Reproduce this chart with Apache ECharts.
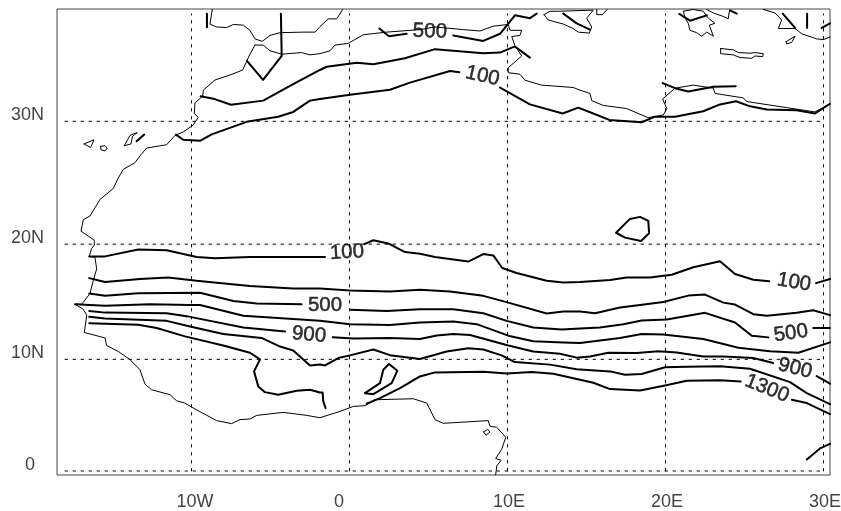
<!DOCTYPE html>
<html>
<head>
<meta charset="utf-8">
<script src="https://cdn.jsdelivr.net/npm/echarts@6/dist/echarts.min.js"></script>
<style>html,body{margin:0;padding:0;background:#fff}#c{width:841px;height:511px}</style>
</head>
<body>
<div id="c"></div>
<script>
// tick values and labels
const lonTicks = [-10, 0, 10, 20, 30];
const lonLabels = ["10W", "0", "10E", "20E", "30E"];
const latTicks = [0, 10, 20, 30];
const latLabels = ["0", "10N", "20N", "30N"];

// contour segments, [lon, lat]
const contourIberiaW = [[-9.02,38.02],[-9.02,37.05]];
const contourIberiaE = [[-4.34,38.02],[-4.29,34.96],[-5.47,33.17],[-6.49,34.59]];
const contourN500a = [[-9.42,31.93],[-8.62,31.75],[-7.5,31.28],[-5.46,31.6],[-3.56,32.85],[-1.87,33.92],[-1.44,34.16],[0.46,34.46],[1.51,34.34],[3.51,34.79],[5.41,35.46],[8.47,35.16],[9.53,35.21],[10.47,35.66],[11.42,34.84]];
const contourN100a = [[-10.98,28.96],[-10.52,28.55],[-9.46,28.47],[-8.72,28.98],[-6.51,29.96],[-4.51,30.36],[-3.56,30.73],[-2.5,31.6],[-1.87,31.72],[0.03,32.05],[2.56,32.43],[3.83,32.97],[6.36,33.84],[6.95,33.75]];
const contourN100b = [[9.53,32.6],[11.42,31.31],[13.49,30.61],[14.48,31.06],[15.43,30.61],[16.44,30.11],[18.49,29.93],[19.34,30.36],[20.6,30.36],[22.39,30.78],[23.45,31.31],[24.46,31.55],[25.35,31.16],[26.41,30.91],[28.3,30.86],[29.46,30.61],[30.41,31.36]];
const contourMed500a = [[1.89,36.96],[2.5,36.4],[3.62,36.58]];
const contourMed500b = [[6.57,36.46],[8.47,36.06],[9.53,36.58],[10.47,37.9],[11.42,37.7],[11.85,38.02]];
const contourSicily = [[13.53,38.02],[14.38,37.33],[15.22,36.88]];
const contourGreece = [[20.87,38.0],[21.55,37.52],[22.61,37.9]];
const contourAegean = [[24.08,38.25],[24.51,38.02]];
const contourTurkeyA = [[27.42,38.02],[28.2,37.0]];
const contourTurkeyB = [[28.96,38.02],[28.96,37.0]];
const contourTurkeyC = [[29.89,37.0],[30.41,37.33]];
const contourLibya = [[19.82,32.93],[20.6,32.55],[21.44,32.3],[23.03,32.65],[24.44,32.7]];
const contourChad = [[16.87,20.96],[17.44,20.55],[18.45,20.27],[18.96,20.92],[18.91,21.96],[18.39,22.29],[17.75,22.12],[16.87,20.96]];
const contourCanary = [[-13.47,28.43],[-12.99,28.96]];
const contour100W = [[-16.47,18.96],[-15.47,18.96],[-13.37,19.54],[-11.57,19.48],[-9.67,18.9],[-8.51,18.81],[-6.3,18.9],[-1.55,18.9]];
const contour100E = [[0.94,20.0],[1.51,20.33],[2.46,20.06],[3.51,19.33],[4.46,19.19],[5.41,18.9],[7.52,18.52],[8.47,19.16],[9.1,19.04],[9.67,17.97],[10.58,17.54],[12.48,16.87],[13.53,16.72],[14.59,16.76],[16.49,16.93],[17.54,17.16],[19.02,17.16],[20.39,17.39],[21.76,18.03],[23.45,18.55],[24.4,17.45],[25.56,16.96],[26.57,16.84]];
const contour100End = [[29.53,16.67],[30.41,17.02]];
const contour300 = [[-16.47,17.1],[-15.47,16.76],[-13.26,17.02],[-11.47,17.16],[-9.67,16.87],[-6.3,16.43],[-3.56,16.2],[-1.87,16.2],[0.03,16.03],[2.56,15.94],[4.46,16.09],[6.36,15.94],[8.47,15.57],[10.05,14.98],[12.48,14.03],[13.53,14.2],[14.59,14.2],[15.54,14.06],[17.12,14.55],[18.39,14.78],[19.86,15.04],[21.44,15.59],[22.5,15.68],[23.66,14.98],[24.4,14.81],[25.56,13.97],[26.41,13.83],[28.3,14.09],[29.35,14.32],[30.41,13.89]];
const contour500W = [[-16.47,15.77],[-15.47,15.57],[-13.37,15.8],[-9.46,15.83],[-7.35,15.13],[-5.87,14.9],[-3.03,14.84]];
const contour500E = [[0.03,14.35],[2.35,14.26],[4.46,14.41],[6.57,14.41],[8.47,14.06],[9.95,13.39],[11.63,12.81],[13.43,12.63],[14.59,12.72],[15.85,12.81],[17.33,13.1],[18.49,13.42],[20.08,13.5],[22.5,14.09],[24.4,13.24],[25.46,12.09],[26.51,11.94]];
const contour500End = [[29.35,12.76],[30.41,12.76]];
const contour700 = [[-17.37,14.84],[-15.47,14.72],[-12.63,14.84],[-10.09,14.78],[-9.46,14.78],[-6.72,13.83],[-1.87,13.39],[0.03,13.1],[2.56,13.02],[4.46,13.24],[6.57,13.33],[8.05,13.1],[10.05,12.09],[11.63,11.59],[13.53,11.48],[14.59,11.45],[17.12,11.89],[18.49,12.23],[19.86,12.2],[22.39,11.8],[24.61,11.02],[26.61,10.72],[28.41,10.58],[30.41,11.5]];
const contour900W = [[-16.47,14.26],[-15.47,14.11],[-11.57,14.06],[-10.09,13.74],[-6.72,12.81],[-4.08,12.46]];
const contour900E = [[-1.06,11.94],[0.24,11.85],[2.56,11.89],[4.46,11.8],[5.52,12.11],[6.57,12.23],[7.63,12.15],[10.05,11.22],[11.63,10.7],[13.32,10.5],[14.38,10.15],[15.22,10.26],[16.38,10.58],[18.18,10.55],[19.54,10.72],[20.71,10.61],[22.39,10.26],[23.66,10.26],[25.56,10.11],[26.82,9.67]];
const contour900End = [[29.57,8.51],[30.41,7.83]];
const contour1100 = [[-16.47,13.74],[-15.47,13.59],[-11.57,13.39],[-10.09,12.9],[-7.99,12.23],[-5.56,11.89],[-4.4,11.13],[-3.56,10.78],[-2.5,9.46],[-1.87,9.55],[-1.55,9.46],[-0.71,10.11],[0.03,10.35],[1.51,10.87],[2.56,10.37],[4.46,10.03],[6.15,10.7],[7.52,10.98],[8.47,10.87],[9.63,10.35],[10.47,9.76],[12.69,9.53],[14.38,9.11],[16.49,8.93],[17.44,8.63],[18.49,8.69],[19.97,9.29],[21.34,9.35],[23.45,9.38],[25.35,9.17],[27.88,7.97],[28.94,6.99],[30.41,6.01]];
const contour1300W = [[-16.47,13.19],[-13.37,13.04],[-12.2,12.76],[-10.41,12.03],[-7.99,11.22],[-6.3,10.58],[-5.66,10.0],[-6.04,8.93],[-5.77,7.59],[-5.35,7.08],[-4.51,6.85],[-3.34,7.21],[-2.5,7.29],[-1.87,7.05],[-1.7,7.05],[-1.66,6.25],[-1.51,5.65]];
const contour1300Loop = [[0.98,6.99],[1.93,7.88],[2.14,9.08],[2.5,9.58],[3.03,8.99],[2.67,7.88],[1.51,6.9],[0.98,6.99]];
const contour1300E = [[1.09,6.04],[1.93,6.54],[3.2,7.44],[4.46,8.48],[5.41,8.84],[8.47,8.9],[9.95,8.75],[11.53,8.87],[12.9,8.72],[14.59,8.19],[15.43,7.92],[16.49,7.35],[18.39,7.23],[19.97,7.68],[21.34,8.1],[23.45,8.15],[24.76,8.04]];
const contour1300End = [[27.99,6.4],[28.94,6.1],[30.41,5.12]];
const contourSE = [[28.94,1.04],[29.78,2.03],[30.41,2.44]];

// coastlines, [lon, lat]
const coastSpain = [[-8.68,38.32],[-8.83,37.28],[-8.41,37.07],[-7.77,37.03],[-7.35,37.25],[-6.72,37.2],[-6.3,36.83],[-5.98,36.21],[-5.52,36.03],[-5.03,36.46],[-4.4,36.66],[-2.92,36.7],[-2.18,36.7],[-1.87,37.09],[-1.34,37.65],[-0.81,37.65],[-0.43,38.32]];
const coastAfricaN = [[-5.98,35.76],[-5.46,35.76],[-5.03,35.34],[-4.29,35.09],[-3.03,35.21],[-2.5,35.04],[-1.87,35.13],[-1.23,35.34],[-0.92,35.76],[-0.08,35.88],[0.87,36.51],[2.35,36.7],[4.46,36.88],[5.41,37.07],[7.2,36.88],[8.26,36.78],[9.1,37.13],[10.05,37.25],[10.16,36.83],[10.9,36.83],[10.79,36.46],[10.27,36.38],[10.47,35.71],[10.9,34.96],[10.05,34.09],[10.05,33.72],[10.79,33.6],[11.11,33.15],[12.16,32.78],[14.16,32.6],[14.59,32.4],[15.22,32.15],[15.33,31.6],[16.06,31.23],[17.54,30.99],[18.91,30.28],[19.86,30.49],[20.08,30.99],[19.82,31.73],[20.6,32.55],[21.76,32.78],[23.03,32.55],[23.13,32.15],[24.92,31.81],[25.14,31.53],[27.67,31.06],[29.46,30.73],[30.41,31.36]];
const coastAfricaW = [[-5.98,35.76],[-6.3,35.09],[-6.76,33.92],[-7.56,33.54],[-8.51,33.17],[-9.25,32.4],[-9.29,31.93],[-9.78,31.43],[-9.82,30.61],[-9.57,30.31],[-9.89,29.71],[-10.52,29.17],[-11.04,28.9],[-11.57,28.16],[-12.84,27.89],[-13.26,27.27],[-13.58,26.72],[-14.32,26.18],[-14.63,25.49],[-14.95,24.63],[-15.79,23.73],[-16.11,23.04],[-16.42,22.37],[-16.85,22.04],[-16.99,21.09],[-16.15,20.33],[-16.15,19.91],[-16.32,19.63],[-16.47,18.96],[-16.11,18.9],[-16.0,17.89],[-16.22,16.87],[-16.42,15.77],[-16.95,14.84],[-17.37,14.84],[-16.85,14.41],[-16.63,13.89],[-16.78,12.37],[-15.47,11.89],[-15.37,11.22],[-14.63,10.7],[-13.89,9.97],[-13.26,9.08],[-12.94,7.79],[-12.52,7.29],[-11.36,6.85],[-10.94,6.31],[-10.41,6.1],[-9.99,5.74],[-8.41,4.53],[-7.46,4.26],[-6.93,4.62],[-6.3,4.67],[-5.87,5.0],[-4.19,5.27],[-2.71,5.0],[-1.87,4.79],[-0.6,5.36],[0.24,5.8],[0.98,5.87],[1.61,6.4],[4.04,6.49],[4.89,6.1],[5.41,4.62],[5.94,4.29],[8.78,4.53],[8.89,4.02],[9.32,3.93],[9.89,3.04],[9.63,1.94],[9.25,1.13],[9.59,0.96],[9.32,0.45],[9.25,-0.36]];
const coastAttica = [[22.61,38.32],[23.03,38.07],[23.66,37.82],[23.97,37.65],[24.04,38.19]];
const coastTurkey = [[26.19,38.32],[26.93,38.07],[27.35,37.57],[27.14,36.96],[28.2,36.96],[28.62,36.58],[29.57,36.21],[29.99,36.16],[30.41,36.34]];
const coastCalabria = [[15.65,38.32],[15.65,37.95],[16.0,37.95],[16.32,38.32]];
const islandCanary1 = [[-16.8,28.22],[-16.17,28.55],[-16.38,27.94],[-16.8,28.22]];
const islandCanary2 = [[-15.75,28.03],[-15.47,28.08],[-15.33,27.89],[-15.47,27.67],[-15.73,27.76],[-15.75,28.03]];
const islandCanary3 = [[-14.25,28.08],[-13.89,28.9],[-13.43,29.12],[-13.72,28.84],[-13.83,28.22],[-14.25,28.08]];
const islandBioko = [[8.49,3.51],[8.75,3.75],[8.89,3.51],[8.64,3.21],[8.49,3.51]];
const islandSicily = [[12.31,37.95],[12.69,38.19],[13.22,38.19],[15.43,38.27],[15.01,37.7],[15.33,37.07],[15.18,36.63],[14.48,36.7],[14.16,36.96],[13.53,37.28],[12.58,37.57],[12.31,37.95]];
const landPeloponnese = [[21.13,38.19],[21.76,38.32],[22.39,38.19],[22.71,37.7],[23.13,37.33],[22.77,37.2],[23.03,36.4],[22.61,36.7],[22.29,36.4],[21.97,36.66],[21.55,36.83],[21.44,37.33],[21.23,37.75],[21.13,38.19]];
const islandRhodes = [[27.63,36.01],[28.2,36.4],[27.99,35.96],[27.67,35.84],[27.63,36.01]];
const islandCrete = [[23.49,35.51],[24.29,35.41],[24.61,35.21],[25.35,35.16],[25.66,35.21],[26.19,35.13],[26.15,34.91],[25.66,34.96],[25.46,34.79],[24.72,34.84],[24.29,35.04],[23.49,35.13],[23.49,35.51]];

// contour labels: text, lon, lat
const labelTexts = ["500","100","100","500","900","100","500","900","1300"];
const labelLons = [5.09,8.42,-0.16,-1.55,-2.56,28.13,27.94,28.2,26.42];
const labelLats = [36.75,33.47,19.3,14.78,12.17,16.74,12.3,9.2,7.41];
const labelAngles = [-2,-13,3,0,-5,-10,8,-14,-22];

const contours = [contourIberiaW,contourIberiaE,contourN500a,contourN100a,contourN100b,contourMed500a,contourMed500b,contourSicily,contourGreece,contourAegean,contourTurkeyA,contourTurkeyB,contourTurkeyC,contourLibya,contourChad,contourCanary,contour100W,contour100E,contour100End,contour300,contour500W,contour500E,contour500End,contour700,contour900W,contour900E,contour900End,contour1100,contour1300W,contour1300Loop,contour1300E,contour1300End,contourSE];
const coasts = [coastSpain,coastAfricaN,coastAfricaW,coastAttica,coastTurkey,coastCalabria,islandCanary1,islandCanary2,islandCanary3,islandBioko,islandSicily,landPeloponnese,islandRhodes,islandCrete];

const merc = lat => Math.log(Math.tan(Math.PI/4 + lat*Math.PI/360)) * 180/Math.PI;
const proj = pts => pts.map(p => [p[0], merc(p[1])]);
const lineSeries = (pts, width, type) => ({
  type:'line', data:proj(pts), showSymbol:false, symbol:'none', silent:true, animation:false, clip:true,
  lineStyle:{color:'#000', width:width, type:type||'solid', cap:'round', join:'round'}
});
const dash = [2.5,5.5];
const series = [];
latTicks.forEach(lat => series.push(lineSeries([[-18,lat],[30,lat]],1,dash)));
lonTicks.forEach(lon => series.push(lineSeries([[lon,0],[lon,38]],1,dash)));
coasts.forEach(c => series.push(lineSeries(c,1)));
contours.forEach(c => series.push(lineSeries(c,2)));
series.push({
  type:'scatter', symbolSize:0, silent:true, animation:false,
  data:labelTexts.map((t,i)=>({
    value:[labelLons[i], merc(labelLats[i])],
    label:{show:true, position:'inside', formatter:t, rotate:labelAngles[i], color:'#000',
      textBorderColor:'#000', textBorderWidth:0.5,
      fontFamily:'Liberation Sans', fontSize:20.5, align:'center', verticalAlign:'middle'}
  }))
});

const chart = echarts.init(document.getElementById('c'), null, {renderer:'canvas'});
chart.setOption({
  backgroundColor:'#fff',
  animation:false,
  grid:{show:true, left:57, right:11, top:9, bottom:36, outerBoundsMode:'none', borderColor:'#444', borderWidth:1, backgroundColor:'transparent'},
  xAxis:{type:'value', min:-18.51, max:30.41, axisLine:{show:false}, axisTick:{show:false}, splitLine:{show:false},
    axisLabel:{show:true, customValues:lonTicks, hideOverlap:false, showMinLabel:true, showMaxLabel:true, margin:18,
      formatter:v=>{const i=lonTicks.indexOf(v);const s=lonLabels[i];return v===0?'{z|'+s+'}':v===-10?'{w|'+s+'}':'{a|'+s+'}';},
      rich:{
        a:{fontFamily:'Liberation Sans',fontSize:18,color:'#444',padding:[0,0,0,3]},
        w:{fontFamily:'Liberation Sans',fontSize:18,color:'#444',padding:[0,0,0,7]},
        z:{fontFamily:'Liberation Sans',fontSize:18,color:'#444',padding:[0,21,0,0]}
      }}},
  yAxis:{type:'value', min:merc(-0.36), max:merc(38.35), axisLine:{show:false}, axisTick:{show:false}, splitLine:{show:false},
    axisLabel:{show:true, customValues:latTicks.map(merc), hideOverlap:false, showMinLabel:true, showMaxLabel:true, margin:13,
      formatter:v=>{let b=0;latTicks.forEach((l,i)=>{if(Math.abs(merc(l)-v)<Math.abs(merc(latTicks[b])-v))b=i;});
        const s=latLabels[b];return b===0?'{z|'+s+'}':'{a|'+s+'}';},
      rich:{
        a:{fontFamily:'Liberation Sans',fontSize:18,color:'#444',padding:[0,0,12,0]},
        z:{fontFamily:'Liberation Sans',fontSize:18,color:'#444',padding:[0,9,12,0]}
      }}},
  series:series
});
</script>
</body>
</html>
